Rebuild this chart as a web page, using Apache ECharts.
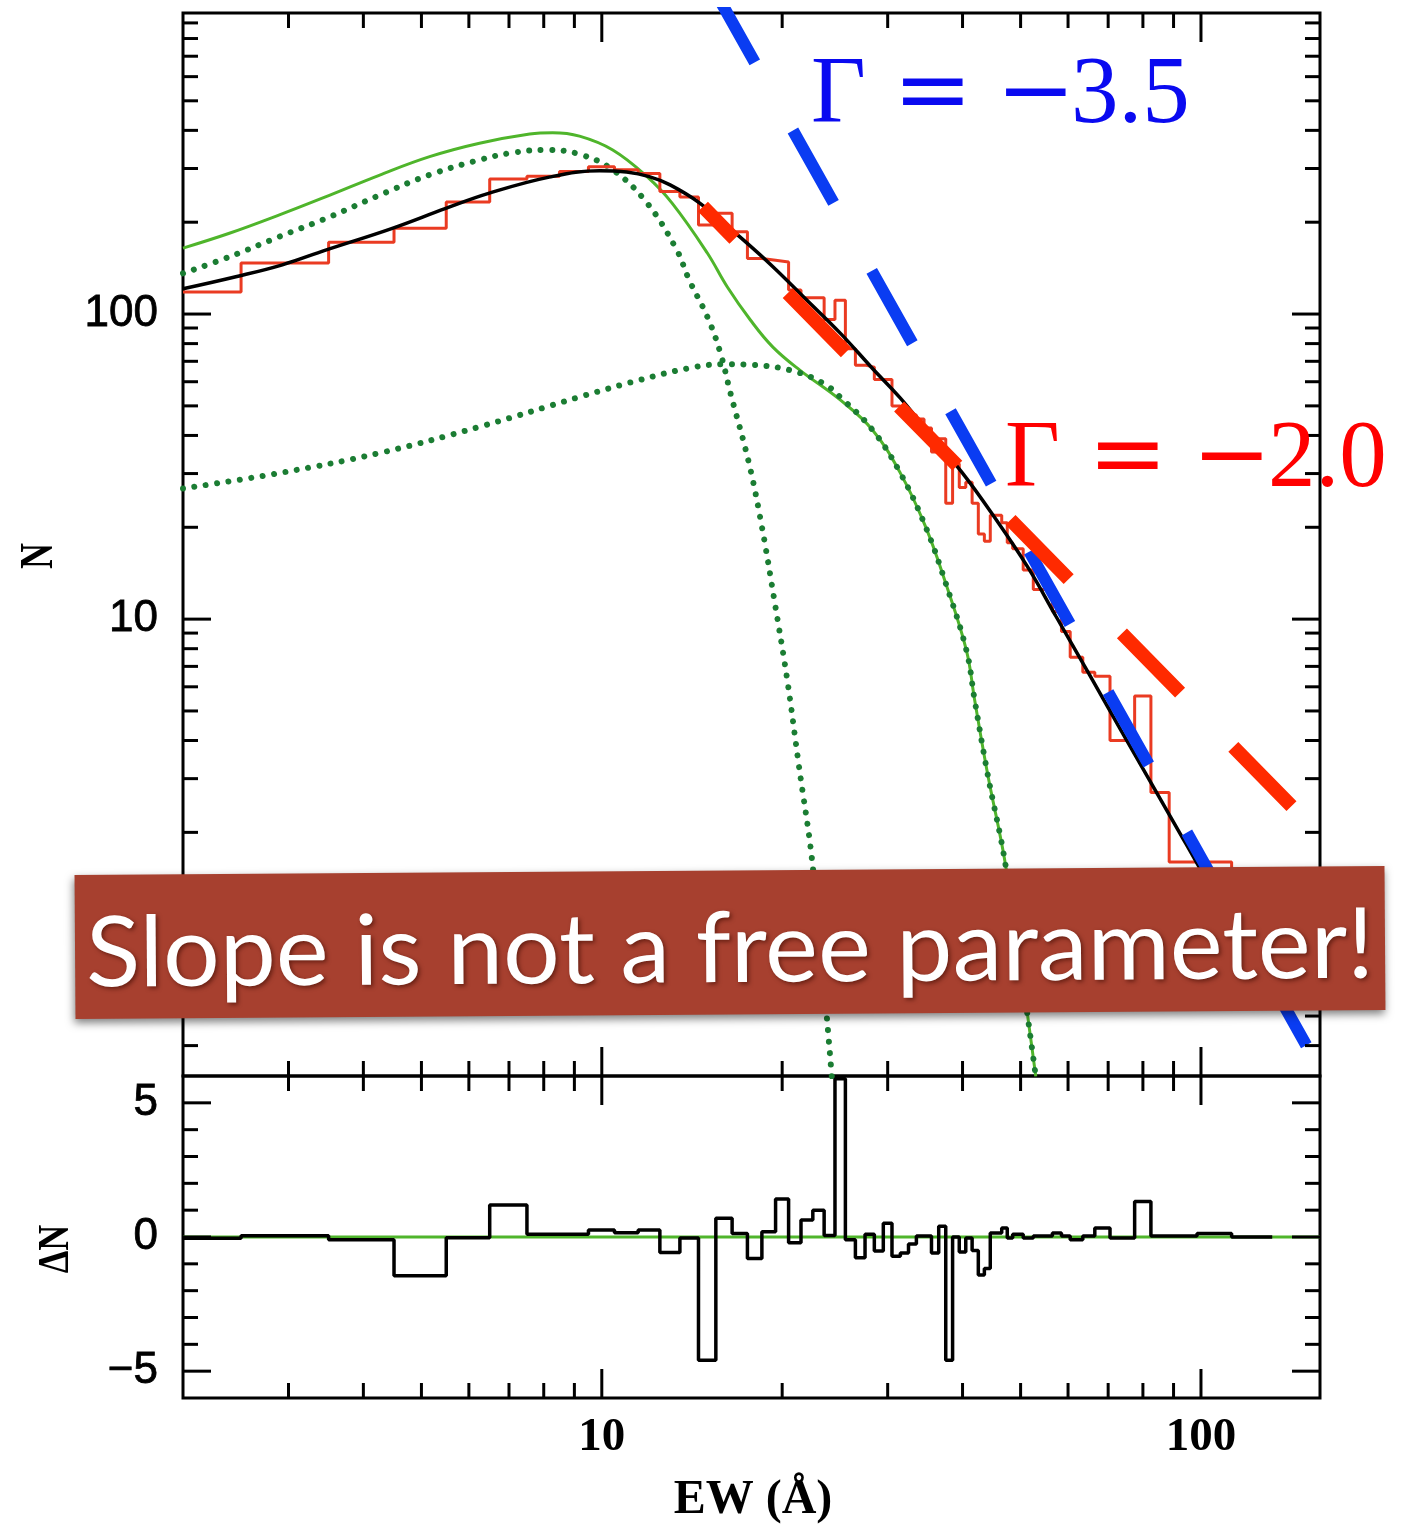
<!DOCTYPE html>
<html>
<head>
<meta charset="utf-8">
<script src="https://cdn.jsdelivr.net/npm/echarts@6/dist/echarts.min.js"></script>
<style>
  html, body { margin: 0; padding: 0; background: #ffffff; }
  #chart { width: 1406px; height: 1527px; }
</style>
</head>
<body>
<div id="chart"></div>
<script>
// ---- observed EW distribution (bin edges in Å, counts per bin) ----
const histEdges = [2, 2.5, 3.5, 4.5, 5.5, 6.5, 7.5, 8.5, 9.5, 10.5, 11.5, 12.5, 13.5, 14.5, 15.5, 16.5, 17.5, 18.5, 19.5, 20.5,
  21.5, 22.5, 23.5, 24.5, 25.5, 26.5, 27.5, 28.5, 29.5, 30.5, 31.5, 32.5, 33.5, 34.5, 35.5, 36.5, 37.5, 38.5, 39.5, 40.5,
  41.5, 42.5, 43.5, 44.5, 46.5, 47.5, 48.5, 50.5, 52.5, 56.5, 58.5, 60.5, 63.5, 66.5, 70.5, 77.5, 82.5, 88.5, 112.5, 131.5];
const histCounts = [118, 147, 172, 191, 233, 277, 283, 293, 304, 297, 289, 252, 242, 196, 214, 186, 152, 150, 148,
  120, 113, 113, 96, 111, 77, 68, 67, 61, 61, 50, 47.7, 46.7, 45.3, 42.3, 35.3, 39, 24, 32.3, 27,
  28.1, 24, 19, 18, 21.9, 20.7, 17.8, 17, 14.5, 12.5, 10.6, 9.1, 7.5, 6.7, 6.5, 4.0, 5.6, 2.7, 1.6, 0.8];

// ---- residuals (lower panel) ----
const residEdges = [2, 2.5, 3.5, 4.5, 5.5, 6.5, 7.5, 9.5, 10.5, 11.5, 12.5, 13.5, 14.5, 15.5, 16.5, 17.5, 18.5, 19.5, 20.5, 21.5,
  22.5, 23.5, 24.5, 25.5, 26.5, 27.5, 28.5, 29.5, 30.5, 31.5, 32.5, 33.5, 35.5, 36.5, 37.5, 38.5, 39.5, 40.5, 41.5, 42.5,
  43.5, 44.5, 46.5, 47.5, 48.5, 50.5, 52.5, 56.5, 58.5, 60.5, 63.5, 66.5, 70.5, 77.5, 82.5, 98.5, 112.5, 131.5];
const residValues = [-0.05, 0.05, -0.1, -1.44, -0.03, 1.19, 0.1, 0.26, 0.16, 0.26, -0.58, -0.04, -4.59, 0.7, 0.13, -0.8, 0.2, 1.42, -0.21, 0.63,
  1.0, 0.06, 5.9, -0.1, -0.77, 0.1, -0.52, 0.51, -0.72, -0.6, -0.26, 0.04, -0.6, 0.4, -4.59, 0, -0.56, -0.04, -0.5, -1.42,
  -1.17, 0.15, 0.34, -0.04, 0.1, -0.04, 0.04, 0.15, 0.04, -0.1, 0.04, 0.34, -0.04, 1.32, 0.04, 0.13, 0];

// ---- model curves, [EW, N] ----
const modelTotal = [[2, 121], [2.45, 132.5], [2.93, 145], [3.46, 162], [4.47, 191], [5.49, 222], [6.49, 249], [8.17, 281],
  [9.91, 295], [11, 292], [12, 282], [13, 265], [14.57, 231], [17, 179], [19.3, 143], [22, 111], [25, 86.6], [28.4, 65.8],
  [31.5, 53], [34.7, 42], [40, 30.1], [45.2, 21.6], [51.4, 14.8], [57.3, 10.2], [65, 6.63], [73.5, 4.33], [92.6, 1.96],
  [100, 1.5], [115, 0.9]];
const twoComponentSum = [[2, 164.5], [2.39, 184], [2.89, 211], [3.51, 245], [4.25, 285], [5.16, 328], [6.25, 363],
  [7.58, 389], [8.28, 393], [9.18, 383], [10.43, 345], [11.9, 282], [13.1, 231], [15.0, 158.5], [16.2, 122.6],
  [17.7, 95.6], [19.3, 77.9], [21.4, 65.5], [25.0, 52.3], [28.3, 41.7], [31.5, 30.1], [34.7, 20.1], [37.5, 13.1],
  [40.6, 7.9], [41.9, 5.44], [44.0, 3.14], [47.3, 1.52], [53.0, 0.317]];
const narrowComponent = [[2, 136], [2.39, 154], [2.89, 179], [3.51, 208], [4.25, 245], [5.16, 286], [6.25, 320],
  [7.1, 338], [8.09, 345], [9.18, 334], [10.43, 297], [11.9, 231], [13.3, 164], [14.0, 129], [15.0, 98], [15.76, 75],
  [16.4, 55], [17.6, 32.5], [18.5, 20.1], [19.4, 11.6], [20.4, 6.3], [21.3, 3.37], [22.5, 1.54], [24.2, 0.317]];
const broadComponent = [[2, 26.8], [2.89, 30.1], [4.25, 35.0], [6.25, 42.7], [9.18, 53.5], [11.57, 60.8], [14.0, 66.5],
  [15.95, 68.5], [17.9, 68.1], [20.6, 65.5], [23.4, 59.4], [25.0, 53.4], [28.3, 41.7], [31.5, 30.1], [34.7, 20.1],
  [37.5, 13.1], [40.6, 7.9], [41.9, 5.44], [44.0, 3.14], [47.3, 1.52], [53.0, 0.317]];

// ---- power-law guides N ∝ EW^Γ ----
const steepGuide = { gamma: -3.5, refEW: 24.66, refN: 222, fromEW: 15.4, toEW: 151.6 };
const shallowGuide = { gamma: -2.0, refEW: 49.05, refN: 20.33, fromEW: 14.75, toEW: 146.9 };

// ---- axis ticks ----
const ewMajorTicks = [10, 100];
const ewMinorTicks = [3, 4, 5, 6, 7, 8, 9, 20, 30, 40, 50, 60, 70, 80, 90];
const nMajorTicks = [1, 10, 100];
const nMinorTicks = [0.4, 0.5, 0.6, 0.7, 0.8, 0.9, 2, 3, 4, 5, 6, 7, 8, 9, 20, 30, 40, 50, 60, 70, 80, 90,
  200, 300, 400, 500, 600, 700, 800, 900];
const dnMajorTicks = [-5, 0, 5];
const dnMinorTicks = [-4, -3, -2, -1, 1, 2, 3, 4];

const EW_RANGE = [2, 158];
const N_RANGE = [0.318, 970];
const DN_RANGE = [-6, 6];

// ---------------------------------------------------------------
const stepPoints = (edges, vals) => {
  const pts = [];
  vals.forEach((v, i) => { pts.push([edges[i], v]); pts.push([edges[i + 1], v]); });
  return pts;
};
const guidePoints = g => {
  const f = ew => g.refN * Math.pow(ew / g.refEW, g.gamma);
  return [[g.fromEW, f(g.fromEW)], [g.toEW, f(g.toEW)]];
};
const fmtNum = v => (v < 0 ? '\u2212' + Math.abs(v) : String(v));

const INK = '#000000';
const TICK_W = 3;
const Y_LABEL_FONT = 'normal 44px "Liberation Sans", Arial, sans-serif';
const X_LABEL_FONT = 'bold 47px "Liberation Serif", "Times New Roman", serif';

// ticks on both horizontal edges of a grid
function ewTickSeries(idx, values, len, yRef) {
  return {
    type: 'custom', xAxisIndex: idx, yAxisIndex: idx, silent: true, z: 20, clip: false,
    data: values.map(v => [v, yRef]), encode: { x: 0, y: 1 },
    renderItem(params, api) {
      const cs = params.coordSys;
      const x = api.coord([api.value(0), api.value(1)])[0];
      return { type: 'group', children: [
        { type: 'line', shape: { x1: x, y1: cs.y, x2: x, y2: cs.y + len }, style: { stroke: INK, lineWidth: TICK_W } },
        { type: 'line', shape: { x1: x, y1: cs.y + cs.height, x2: x, y2: cs.y + cs.height - len }, style: { stroke: INK, lineWidth: TICK_W } }
      ] };
    }
  };
}
// ticks on both vertical edges of a grid
function valTickSeries(idx, values, len, xRef) {
  return {
    type: 'custom', xAxisIndex: idx, yAxisIndex: idx, silent: true, z: 20, clip: false,
    data: values.map(v => [xRef, v]), encode: { x: 0, y: 1 },
    renderItem(params, api) {
      const cs = params.coordSys;
      const y = api.coord([api.value(0), api.value(1)])[1];
      return { type: 'group', children: [
        { type: 'line', shape: { x1: cs.x, y1: y, x2: cs.x + len, y2: y }, style: { stroke: INK, lineWidth: TICK_W } },
        { type: 'line', shape: { x1: cs.x + cs.width, y1: y, x2: cs.x + cs.width - len, y2: y }, style: { stroke: INK, lineWidth: TICK_W } }
      ] };
    }
  };
}
function ewLabelSeries(idx, values, yRef) {
  return {
    type: 'custom', xAxisIndex: idx, yAxisIndex: idx, silent: true, z: 20, clip: false,
    data: values.map(v => [v, yRef]), encode: { x: 0, y: 1 },
    renderItem(params, api) {
      const cs = params.coordSys;
      const x = api.coord([api.value(0), api.value(1)])[0];
      return { type: 'text', x: x, y: cs.y + cs.height + 40,
        style: { text: fmtNum(api.value(0)), font: X_LABEL_FONT, fill: INK, textAlign: 'center', textVerticalAlign: 'middle' } };
    }
  };
}
function valLabelSeries(idx, values, xRef) {
  return {
    type: 'custom', xAxisIndex: idx, yAxisIndex: idx, silent: true, z: 20, clip: false,
    data: values.map(v => [xRef, v]), encode: { x: 0, y: 1 },
    renderItem(params, api) {
      const cs = params.coordSys;
      const y = api.coord([api.value(0), api.value(1)])[1];
      return { type: 'text', x: cs.x - 25, y: y,
        style: { text: fmtNum(api.value(1)), font: Y_LABEL_FONT, fill: INK, stroke: INK, lineWidth: 0.8,
          textAlign: 'right', textVerticalAlign: 'middle' } };
    }
  };
}

const lineBase = { type: 'line', showSymbol: false, symbol: 'none', silent: true, animation: false };

const series = [
  // upper panel
  Object.assign({}, lineBase, { name: 'sum', xAxisIndex: 0, yAxisIndex: 0, z: 2, smooth: 0.4, data: twoComponentSum,
    lineStyle: { color: '#4fb52b', width: 3 } }),
  Object.assign({}, lineBase, { name: 'broad', xAxisIndex: 0, yAxisIndex: 0, z: 3, smooth: 0.4, data: broadComponent,
    lineStyle: { color: '#1b7d33', width: 6, type: [0.01, 11.5], cap: 'round' } }),
  Object.assign({}, lineBase, { name: 'narrow', xAxisIndex: 0, yAxisIndex: 0, z: 3, smooth: 0.4, data: narrowComponent,
    lineStyle: { color: '#1b7d33', width: 6, type: [0.01, 11.5], cap: 'round' } }),
  Object.assign({}, lineBase, { name: 'observed', xAxisIndex: 0, yAxisIndex: 0, z: 4, data: stepPoints(histEdges, histCounts),
    lineStyle: { color: '#ea3b22', width: 3 } }),
  Object.assign({}, lineBase, { name: 'model', xAxisIndex: 0, yAxisIndex: 0, z: 5, smooth: 0.4, data: modelTotal,
    lineStyle: { color: '#000000', width: 3.5 } }),
  Object.assign({}, lineBase, { name: 'steep', xAxisIndex: 0, yAxisIndex: 0, z: 6, data: guidePoints(steepGuide),
    lineStyle: { color: '#0a3cf2', width: 12, type: [83, 78], cap: 'butt' } }),
  Object.assign({}, lineBase, { name: 'shallow', xAxisIndex: 0, yAxisIndex: 0, z: 7, data: guidePoints(shallowGuide),
    lineStyle: { color: '#ff2a00', width: 14, type: [83, 76], dashOffset: 38, cap: 'butt' } }),
  // lower panel
  Object.assign({}, lineBase, { name: 'zero', xAxisIndex: 1, yAxisIndex: 1, z: 2, data: [[EW_RANGE[0], 0], [EW_RANGE[1], 0]],
    lineStyle: { color: '#4fb52b', width: 3 } }),
  Object.assign({}, lineBase, { name: 'residual', xAxisIndex: 1, yAxisIndex: 1, z: 4, data: stepPoints(residEdges, residValues),
    lineStyle: { color: '#000000', width: 3.5 } }),
  // ticks and tick labels
  ewTickSeries(0, ewMajorTicks, 29, 10), ewTickSeries(0, ewMinorTicks, 15, 10),
  valTickSeries(0, nMajorTicks, 28, 10), valTickSeries(0, nMinorTicks, 15, 10),
  ewTickSeries(1, ewMajorTicks, 29, 0), ewTickSeries(1, ewMinorTicks, 15, 0),
  valTickSeries(1, dnMajorTicks, 28, 10), valTickSeries(1, dnMinorTicks, 15, 10),
  valLabelSeries(0, nMajorTicks, 10), valLabelSeries(1, dnMajorTicks, 10),
  ewLabelSeries(1, ewMajorTicks, 0)
];

// Γ annotations drawn in pieces so the math spacing holds
const MATH_FONT = '95px "Liberation Serif", "Times New Roman", serif';
const OP_FONT = '95px "DejaVu Serif", serif';
function gammaLabel(g, color, xs, yMid) {
  const parts = [
    ['\u0393', MATH_FONT], ['=', OP_FONT], ['\u2212', OP_FONT], [Math.abs(g.gamma).toFixed(1), MATH_FONT]
  ];
  return parts.map((p, i) => ({
    type: 'text', x: xs[i], y: yMid, z: 30,
    style: { text: p[0], font: p[1], fill: color, textAlign: 'left', textVerticalAlign: 'middle' }
  }));
}

// banner text width fitted to the band
const BANNER_TEXT = 'Slope is not a free parameter!';
const BANNER_FONT = 'normal 98px Lato, "Open Sans", sans-serif';
const meas = document.createElement('canvas').getContext('2d');
meas.font = BANNER_FONT;
const bannerScaleX = 1288 / meas.measureText(BANNER_TEXT).width;

const graphic = [].concat(
  gammaLabel(steepGuide, '#0a0af0', [811, 893, 996, 1071], 97),
  gammaLabel(shallowGuide, '#ff0000', [1005, 1088, 1192, 1268], 461),
  [
    { type: 'text', x: 753, y: 1501, z: 30,
      style: { text: 'EW (\u00C5)', font: 'bold 48px "Liberation Serif", serif', fill: INK, textAlign: 'center', textVerticalAlign: 'middle' } },
    { type: 'text', x: 40, y: 556, rotation: Math.PI / 2, scaleX: 0.78, z: 30,
      style: { text: 'N', font: 'bold 46px "Liberation Serif", serif', fill: INK, textAlign: 'center', textVerticalAlign: 'middle' } },
    { type: 'text', x: 57, y: 1249, rotation: Math.PI / 2, scaleX: 0.82, z: 30,
      style: { text: '\u0394N', font: 'bold 44px "Liberation Serif", serif', fill: INK, textAlign: 'center', textVerticalAlign: 'middle' } },
    { type: 'group', x: 730, y: 942.5, rotation: 0.0069, z: 50, children: [
      { type: 'rect', shape: { x: -655, y: -72, width: 1310, height: 144 }, z: 50,
        style: { fill: '#a7402f', shadowBlur: 9, shadowColor: 'rgba(0,0,0,0.5)', shadowOffsetX: -1, shadowOffsetY: 4 } },
      { type: 'text', x: 0, y: 8, scaleX: bannerScaleX, z: 51,
        style: { text: BANNER_TEXT, font: BANNER_FONT, fill: '#ffffff', textAlign: 'center', textVerticalAlign: 'middle',
          textShadowColor: 'rgba(60,10,0,0.6)', textShadowBlur: 4, textShadowOffsetX: 2, textShadowOffsetY: 2 } }
    ] }
  ]
);

const chart = echarts.init(document.getElementById('chart'), null, { renderer: 'canvas' });
chart.setOption({
  animation: false,
  backgroundColor: '#ffffff',
  grid: [
    { left: 183, top: 13, width: 1137, height: 1063, show: true, borderColor: INK, borderWidth: 3, backgroundColor: 'rgba(0,0,0,0)' },
    { left: 183, top: 1076, width: 1137, height: 322, show: true, borderColor: INK, borderWidth: 3, backgroundColor: 'rgba(0,0,0,0)' }
  ],
  xAxis: [
    { gridIndex: 0, type: 'log', logBase: 10, min: EW_RANGE[0], max: EW_RANGE[1], show: false },
    { gridIndex: 1, type: 'log', logBase: 10, min: EW_RANGE[0], max: EW_RANGE[1], show: false }
  ],
  yAxis: [
    { gridIndex: 0, type: 'log', logBase: 10, min: N_RANGE[0], max: N_RANGE[1], show: false },
    { gridIndex: 1, type: 'value', min: DN_RANGE[0], max: DN_RANGE[1], show: false }
  ],
  series: series,
  graphic: graphic
});
</script>
</body>
</html>
